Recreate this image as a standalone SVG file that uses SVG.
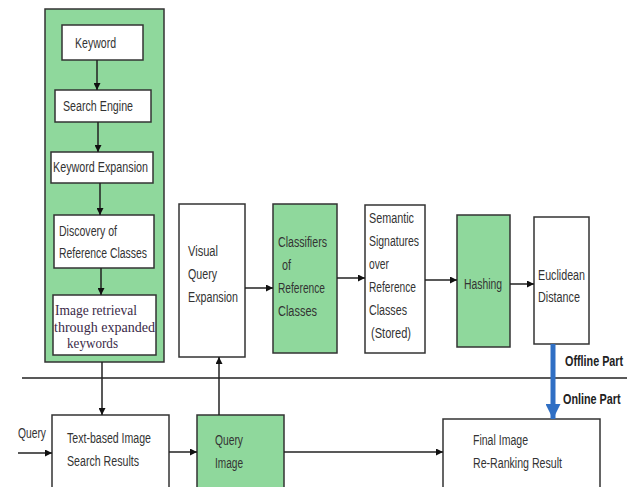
<svg xmlns="http://www.w3.org/2000/svg" width="635" height="487" viewBox="0 0 635 487">
<defs>
<style>
.box{fill:#fff;stroke:#333;stroke-width:1.5}
.g{fill:#8fd89c;stroke:#333;stroke-width:1.5}
.t{font-family:"Liberation Sans",Arial,sans-serif;font-size:14px;fill:#333}
.s{font-family:"Liberation Serif","Times New Roman",serif;font-size:15px;fill:#3b2a48}
.b{font-family:"Liberation Sans",Arial,sans-serif;font-size:15px;font-weight:bold;fill:#222}
.c{stroke:#222;stroke-width:1.5;fill:none}
</style>
<marker id="ah" viewBox="0 0 10 10" refX="10" refY="5" markerWidth="7" markerHeight="7" orient="auto" markerUnits="userSpaceOnUse"><path d="M0,0 L10,5 L0,10 z" fill="#111"/></marker>
<marker id="bh" viewBox="0 0 10 10" refX="10" refY="5" markerWidth="4" markerHeight="3" orient="auto"><path d="M0,0 L10,5 L0,10 z" fill="#2f6fc4"/></marker>
</defs>
<rect width="635" height="487" fill="#fff"/>
<g id="offline-panel"><rect class="g" x="45" y="9" width="119" height="353"/></g>
<g id="keyword"><rect class="box" x="62" y="25" width="81" height="35"/><text class="t" x="75" y="48" textLength="41" lengthAdjust="spacingAndGlyphs">Keyword</text></g>
<g id="search-engine"><rect class="box" x="55" y="90" width="96" height="32"/><text class="t" x="63" y="111" textLength="70" lengthAdjust="spacingAndGlyphs">Search Engine</text></g>
<g id="keyword-expansion"><rect class="box" x="51" y="152" width="102" height="31"/><text class="t" x="53" y="172" textLength="95" lengthAdjust="spacingAndGlyphs">Keyword Expansion</text></g>
<g id="discovery"><rect class="box" x="54" y="215" width="100" height="53"/><text class="t" x="59" y="236" textLength="58" lengthAdjust="spacingAndGlyphs">Discovery of</text><text class="t" x="59" y="258" textLength="88" lengthAdjust="spacingAndGlyphs">Reference Classes</text></g>
<g id="image-retrieval"><rect class="box" x="53" y="295" width="103" height="60"/><text class="s" x="55" y="315" textLength="82" lengthAdjust="spacingAndGlyphs">Image retrieval</text><text class="s" x="54" y="332" textLength="101" lengthAdjust="spacingAndGlyphs">through expanded</text><text class="s" x="67" y="348" textLength="51" lengthAdjust="spacingAndGlyphs">keywords</text></g>
<g id="visual-query-expansion"><rect class="box" x="179" y="204" width="66" height="153"/><text class="t" x="188" y="256" textLength="30" lengthAdjust="spacingAndGlyphs">Visual</text><text class="t" x="188" y="279" textLength="29" lengthAdjust="spacingAndGlyphs">Query</text><text class="t" x="188" y="302" textLength="50" lengthAdjust="spacingAndGlyphs">Expansion</text></g>
<g id="classifiers"><rect class="g" x="273" y="204" width="64" height="149"/><text class="t" x="278" y="247" textLength="49" lengthAdjust="spacingAndGlyphs">Classifiers</text><text class="t" x="282" y="270" textLength="9" lengthAdjust="spacingAndGlyphs">of</text><text class="t" x="278" y="293" textLength="47" lengthAdjust="spacingAndGlyphs">Reference</text><text class="t" x="278" y="316" textLength="39" lengthAdjust="spacingAndGlyphs">Classes</text></g>
<g id="semantic-signatures"><rect class="box" x="365" y="205" width="60" height="148"/><text class="t" x="369" y="223" textLength="45" lengthAdjust="spacingAndGlyphs">Semantic</text><text class="t" x="369" y="246" textLength="50" lengthAdjust="spacingAndGlyphs">Signatures</text><text class="t" x="369" y="269" textLength="20" lengthAdjust="spacingAndGlyphs">over</text><text class="t" x="369" y="292" textLength="47" lengthAdjust="spacingAndGlyphs">Reference</text><text class="t" x="369" y="315" textLength="38" lengthAdjust="spacingAndGlyphs">Classes</text><text class="t" x="371" y="338" textLength="40" lengthAdjust="spacingAndGlyphs">(Stored)</text></g>
<g id="hashing"><rect class="g" x="457" y="215" width="53" height="132"/><text class="t" x="464" y="289" textLength="38" lengthAdjust="spacingAndGlyphs">Hashing</text></g>
<g id="euclidean"><rect class="box" x="534" y="217" width="55" height="127"/><text class="t" x="538" y="280" textLength="47" lengthAdjust="spacingAndGlyphs">Euclidean</text><text class="t" x="538" y="302" textLength="42" lengthAdjust="spacingAndGlyphs">Distance</text></g>
<g id="text-based"><rect class="box" x="52" y="415" width="117" height="80"/><text class="t" x="67" y="443" textLength="84" lengthAdjust="spacingAndGlyphs">Text-based Image</text><text class="t" x="67" y="466" textLength="72" lengthAdjust="spacingAndGlyphs">Search Results</text></g>
<g id="query-image"><rect class="g" x="197" y="415" width="87" height="80"/><text class="t" x="215" y="445" textLength="28" lengthAdjust="spacingAndGlyphs">Query</text><text class="t" x="215" y="468" textLength="28" lengthAdjust="spacingAndGlyphs">Image</text></g>
<g id="final-result"><rect class="box" x="443" y="419" width="157" height="76"/><text class="t" x="473" y="445" textLength="55" lengthAdjust="spacingAndGlyphs">Final Image</text><text class="t" x="473" y="468" textLength="89" lengthAdjust="spacingAndGlyphs">Re-Ranking Result</text></g>
<g id="labels"><text class="t" x="18" y="438" textLength="28" lengthAdjust="spacingAndGlyphs">Query</text><text class="b" transform="translate(565,366) scale(0.72,1)">Offline Part</text><text class="b" transform="translate(563,404) scale(0.72,1)">Online Part</text></g>
<g id="connectors">
<line class="c" x1="22" y1="378" x2="627" y2="378"/>
<line class="c" x1="97" y1="60" x2="97" y2="90" marker-end="url(#ah)"/>
<line class="c" x1="98" y1="122" x2="98" y2="152" marker-end="url(#ah)"/>
<line class="c" x1="100" y1="183" x2="100" y2="215" marker-end="url(#ah)"/>
<line class="c" x1="101" y1="268" x2="101" y2="295" marker-end="url(#ah)"/>
<line class="c" x1="102" y1="362" x2="102" y2="415" marker-end="url(#ah)"/>
<line class="c" x1="18" y1="453" x2="52" y2="453" marker-end="url(#ah)"/>
<line class="c" x1="169" y1="452" x2="197" y2="452" marker-end="url(#ah)"/>
<line class="c" x1="284" y1="452" x2="443" y2="452" marker-end="url(#ah)"/>
<line class="c" x1="219" y1="415" x2="219" y2="357" marker-end="url(#ah)"/>
<line class="c" x1="245" y1="288" x2="273" y2="288" marker-end="url(#ah)"/>
<line class="c" x1="337" y1="278" x2="365" y2="278" marker-end="url(#ah)"/>
<line class="c" x1="425" y1="280" x2="457" y2="280" marker-end="url(#ah)"/>
<line class="c" x1="510" y1="284" x2="534" y2="284" marker-end="url(#ah)"/>
<line x1="553" y1="344" x2="553" y2="419" stroke="#2f6fc4" stroke-width="5" marker-end="url(#bh)"/>
</g>
</svg>
